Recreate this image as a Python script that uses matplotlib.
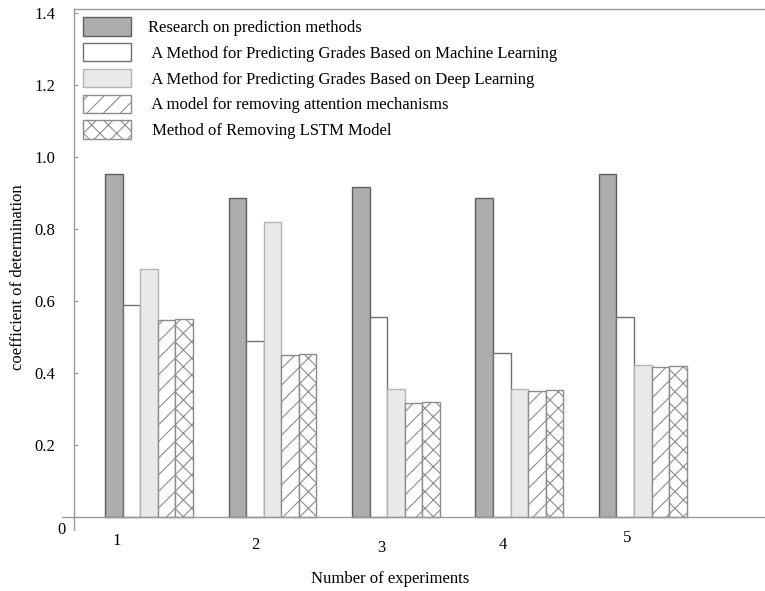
import numpy as np
from matplotlib import pyplot as plt
from matplotlib import transforms

plt.rcParams['font.family'] = ['Liberation Serif', 'DejaVu Serif']
plt.rcParams['hatch.linewidth'] = 0.8

experiments = ['1', '2', '3', '4', '5']
series_names = ['Research on prediction methods',
                ' A Method for Predicting Grades Based on Machine Learning',
                ' A Method for Predicting Grades Based on Deep Learning',
                ' A model for removing attention mechanisms',
                ' Method of Removing LSTM Model']
research = [0.953, 0.886, 0.917, 0.886, 0.953]
machine_learning = [0.589, 0.489, 0.556, 0.456, 0.556]
deep_learning = [0.689, 0.819, 0.356, 0.356, 0.422]
no_attention = [0.547, 0.450, 0.317, 0.350, 0.417]
no_lstm = [0.550, 0.452, 0.319, 0.353, 0.419]

values = [research, machine_learning, deep_learning, no_attention, no_lstm]
facecolors = ['#adadad', 'white', '#e8e9e8', 'white', 'white']
edgecolors = ['#5f5f5f', '#707070', '#b4b4b4', '#8c8c8c', '#8c8c8c']
hatches = [None, None, None, '//', 'xx']

fig = plt.figure(figsize=(7.65, 5.91), dpi=100)
ax = fig.add_axes([74/765, 61/591, 691/765, 521/591])

x = np.arange(len(experiments))
w = 0.142
for k, vals in enumerate(values):
    ax.bar(x + (k - 2) * w, vals, width=w, facecolor=facecolors[k],
           edgecolor=edgecolors[k], hatch=hatches[k], linewidth=1.0,
           label=series_names[k])

ax.set_xlim(-0.607, 4.99)
ax.set_ylim(-0.036, 1.411)

ax.spines['right'].set_visible(False)
ax.spines['bottom'].set_visible(False)
for s in ['left', 'top']:
    ax.spines[s].set_color('#999999')
    ax.spines[s].set_linewidth(1.0)

# baseline at zero, running a bit left of the axis
ax.plot([-0.017, 1.0], [0, 0], color='#999999', lw=1.0, clip_on=False,
        transform=transforms.blended_transform_factory(ax.transAxes, ax.transData))

ax.set_yticks([0.2, 0.4, 0.6, 0.8, 1.0, 1.2, 1.4])
ax.set_yticklabels(['0.2', '0.4', '0.6', '0.8', '1.0', '1.2', '1.4'])
ax.tick_params(axis='y', direction='in', length=3, color='#999999', pad=13.5, labelsize=12)
ax.set_xticks([])
ax.text(-0.012, -0.036, '0', transform=transforms.blended_transform_factory(ax.transAxes, ax.transData),
        ha='right', va='center', fontsize=12)

label_dx = [-0.26, -0.14, -0.12, -0.13, -0.13]
label_dy = [-0.067, -0.078, -0.086, -0.078, -0.058]
for i, lab in enumerate(experiments):
    ax.text(x[i] + label_dx[i], label_dy[i], lab, ha='center', va='center', fontsize=12)

ax.set_ylabel('coefficient of determination', fontsize=12)
ax.yaxis.set_label_coords(-0.070, 0.486)
ax.set_xlabel('Number of experiments', fontsize=12)
ax.xaxis.set_label_coords(0.457, -0.079)

ax.legend(loc='upper left', bbox_to_anchor=(0.013, 0.985), frameon=False,
          borderpad=0, borderaxespad=0, fontsize=12, handlelength=2.9,
          handleheight=1.35, labelspacing=0.42, handletextpad=1.0)

fig.savefig('out.png', dpi=100)
